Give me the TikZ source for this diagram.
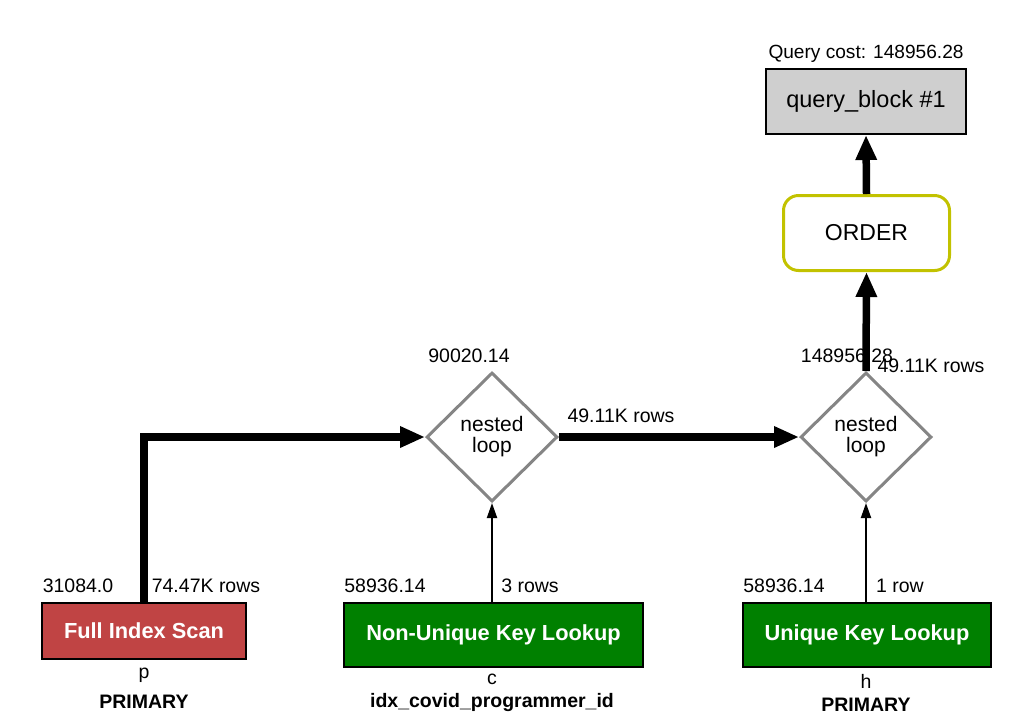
\documentclass[tikz,border=0pt]{standalone}
\usepackage{fontspec}
\setmainfont{Liberation Sans}
\usetikzlibrary{shapes.geometric,arrows.meta}
\definecolor{qbgray}{HTML}{CFCFCF}
\definecolor{fisred}{HTML}{C04444}
\definecolor{lkgreen}{HTML}{008000}
\definecolor{ordyel}{HTML}{C2C200}
\definecolor{nlgray}{HTML}{858585}
\tikzset{
  lbl/.style={inner sep=0pt, anchor=base, font=\fontsize{19.5}{21}\selectfont},
  boldlbl/.style={inner sep=0pt, anchor=base, font=\fontsize{19.5}{21}\selectfont\bfseries},
  opbox/.style={draw=black, line width=2pt, inner sep=0pt, text=white,
    font=\fontsize{21.8}{23}\selectfont\bfseries},
  nlbox/.style={diamond, draw=nlgray, line width=3pt, fill=white, inner sep=0pt,
    minimum width=131pt, minimum height=129pt, align=center,
    font=\fontsize{21}{21}\selectfont},
  thickarrow/.style={line width=7.5pt, -{Triangle[length=25pt,width=20pt]}},
  thinarrow/.style={line width=2pt, -{Triangle[length=15pt,width=10pt]}},
}
\begin{document}
\begin{tikzpicture}[x=1pt,y=-1pt]
\useasboundingbox (0,0) rectangle (1036,724);

% top
\node[lbl, font=\fontsize{19.1}{20}\selectfont] (qcost) at (866,58) {Query cost: 148956.28};
\node[draw=black, line width=2pt, fill=qbgray, minimum width=200pt, minimum height=65pt,
      inner sep=0pt, font=\fontsize{23.5}{25}\selectfont] (qb) at (866,101.5) {query\_block \#1};
\node[draw=ordyel, line width=3pt, fill=white, rounded corners=15pt, minimum width=166pt,
      minimum height=75pt, inner sep=0pt, font=\fontsize{23}{25}\selectfont] (order) at (866.5,233) {ORDER};

% nested loops
\node[nlbox] (nl1) at (492,437) {nested\\loop};
\node[nlbox] (nl2) at (866,437) {nested\\loop};
\node[lbl] (nl1cost) at (469,362) {90020.14};
\node[lbl] (nl2cost) at (847,362) {148956.28};
\node[lbl] (nl2rows) at (931,372) {49.11K rows};
\node[lbl] (nl1rows) at (621,422) {49.11K rows};

% access boxes
\node[opbox, fill=fisred, minimum width=204pt, minimum height=56pt] (fis) at (144,631) {Full Index Scan};
\node[opbox, fill=lkgreen, minimum width=299pt, minimum height=64pt] (nukl) at (493.5,635) {Non-Unique Key Lookup};
\node[opbox, fill=lkgreen, minimum width=248pt, minimum height=64pt] (ukl) at (867,635) {Unique Key Lookup};

\node[lbl] (fiscost) at (78,592) {31084.0};
\node[lbl] (fisrows) at (206,592) {74.47K rows};
\node[lbl] (fistab) at (144,678) {p};
\node[boldlbl] (fiskey) at (144,708) {PRIMARY};

\node[lbl] (nuklcost) at (385,592) {58936.14};
\node[lbl] (nuklrows) at (530,592) {3 rows};
\node[lbl] (nukltab) at (492,684) {c};
\node[boldlbl] (nuklkey) at (492,707) {idx\_covid\_programmer\_id};

\node[lbl] (uklcost) at (784,592) {58936.14};
\node[lbl] (uklrows) at (900,592) {1 row};
\node[lbl] (ukltab) at (866,688) {h};
\node[boldlbl] (uklkey) at (866,711) {PRIMARY};

% connectors
\draw[thickarrow] (fis.north) |- (nl1.west);
\draw[thickarrow] (nl1.east) -- (nl2.west);
\draw[thinarrow] (nukl.north -| nl1.south) -- (nl1.south);
\draw[thinarrow] (ukl.north -| nl2.south) -- (nl2.south);
\draw[thickarrow] (nl2.north) -- (order.south);
\draw[thickarrow] (order.north) -- (qb.south);
\end{tikzpicture}
\end{document}
